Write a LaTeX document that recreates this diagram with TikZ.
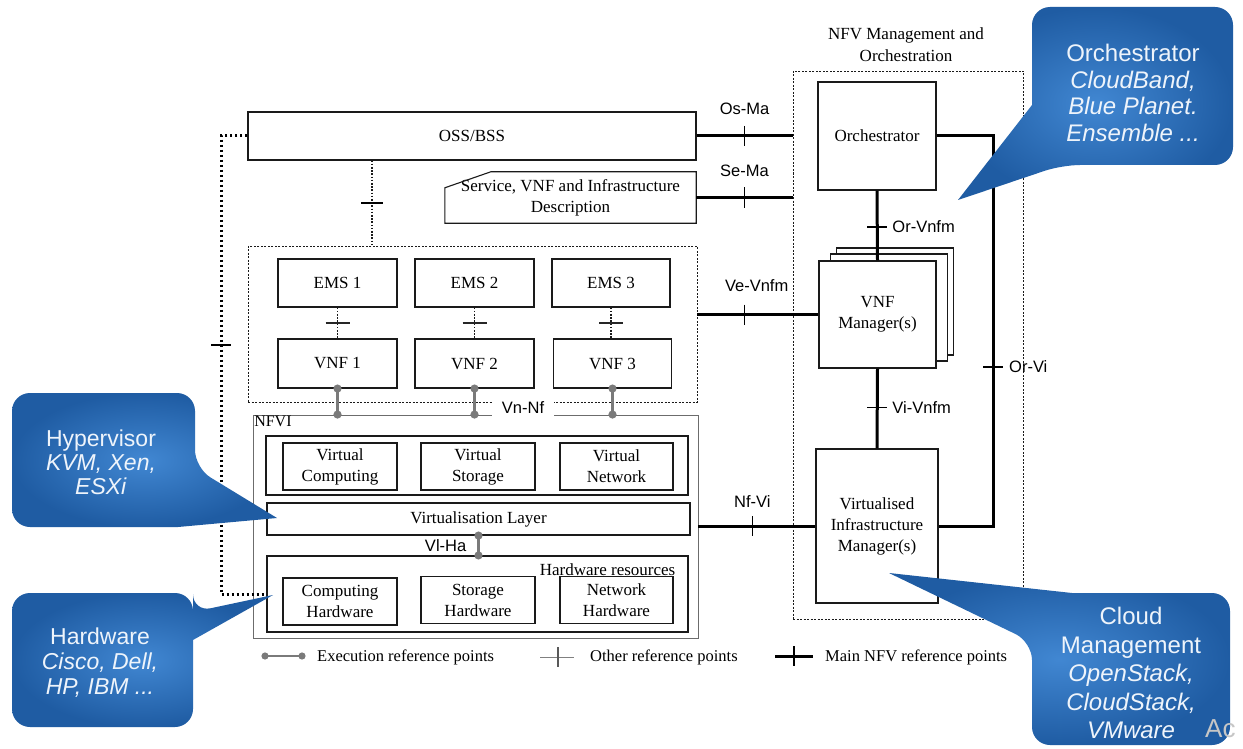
\documentclass[tikz,border=0pt]{standalone}
\usepackage{fontspec}
\setmainfont{Liberation Serif}
\newfontfamily\lsans{Liberation Sans}
\usetikzlibrary{arrows.meta}
\definecolor{cbinner}{HTML}{4187D2}
\definecolor{cbouter}{HTML}{1F5CA3}
\definecolor{cbtext}{HTML}{EEF4FB}
\definecolor{lnc}{HTML}{1A1A1A}
\definecolor{exgray}{HTML}{7A7A7A}
\begin{document}
\begin{tikzpicture}[x=1pt,y=-1pt,
  box/.style={draw=lnc, line width=1.1pt, fill=white, align=center, inner sep=0pt, font=\fontsize{17}{21}\selectfont},
  edgeln/.style={draw=lnc, line width=1.1pt},
  dbox/.style={draw=lnc, line width=0.9pt, dash pattern=on 2pt off 1.5pt, inner sep=0pt},
  lbl/.style={font=\lsans\fontsize{16.5}{19}\selectfont, inner sep=1pt},
  main/.style={draw=black, line width=3pt},
  tk/.style={draw=black, line width=1.3pt},
  dotl/.style={draw=lnc, line width=1.8pt, dash pattern=on 1.6pt off 1.6pt},
  thickdot/.style={draw=black, line width=3pt, dash pattern=on 2.5pt off 2.5pt},
  exec/.style={draw=exgray, line width=2.5pt, {Circle[length=8pt]}-{Circle[length=8pt]}, shorten <=-4pt, shorten >=-4pt},
  cotext/.style={text=cbtext, align=center, inner sep=0pt},
  legend/.style={font=\fontsize{16.5}{19}\selectfont, anchor=west, inner sep=0pt},
]
\useasboundingbox (0,0) rectangle (1243,749);
\fill[white] (0,0) rectangle (1243,749);

% ---------- MANO ----------
\node[dbox, minimum width=230pt, minimum height=548pt] (mano) at (908,345) {};
\node[align=center, font=\fontsize{17}{22}\selectfont, inner sep=0pt] (manotitle) at (906,45) {NFV Management and\\Orchestration};
\node[box, minimum width=118pt, minimum height=108pt] (orch) at (877,136) {Orchestrator};
\node[box, minimum width=117pt, minimum height=107pt] (vnfmC) at (895,301.5) {};
\node[box, minimum width=117pt, minimum height=107pt] (vnfmB) at (889,307.5) {};
\node[box, minimum width=117pt, minimum height=107pt] (vnfm) at (877.5,314.5) {VNF\\Manager(s)};
\node[box, minimum width=122pt, minimum height=154pt] (vim) at (877,526) {Virtualised\\Infrastructure\\Manager(s)};

% ---------- OSS / description ----------
\node[box, minimum width=448pt, minimum height=48pt] (oss) at (472,136) {OSS/BSS};
\node[align=center, font=\fontsize{17}{21}\selectfont, minimum width=251pt, minimum height=51pt, inner sep=0pt] (desc) at (570.5,197.5) {Service, VNF and Infrastructure\\Description};
\draw[edgeln] ([yshift=-16pt]desc.north west) -- ([xshift=46pt]desc.north west) -- (desc.north east) -- (desc.south east) -- (desc.south west) -- cycle;

% ---------- EMS / VNF ----------
\node[dbox, minimum width=449pt, minimum height=156pt] (emsgrp) at (472.5,324) {};
\node[box, minimum width=119pt, minimum height=48pt] (ems1) at (337.5,283) {EMS 1};
\node[box, minimum width=119pt, minimum height=48pt] (ems2) at (474.5,283) {EMS 2};
\node[box, minimum width=118pt, minimum height=48pt] (ems3) at (611,283) {EMS 3};
\node[box, minimum width=119pt, minimum height=49pt] (vnf1) at (337.5,363.5) {VNF 1};
\node[box, minimum width=119pt, minimum height=49pt] (vnf2) at (474.5,363.5) {VNF 2};
\node[box, minimum width=118pt, minimum height=49pt] (vnf3) at (612.5,363.5) {VNF 3};

% ---------- NFVI ----------
\node[draw=gray!85!black, line width=0.9pt, minimum width=445pt, minimum height=223pt, inner sep=0pt] (nfvi) at (475.5,526.5) {};
\node[anchor=north west, font=\fontsize{16}{18}\selectfont, inner sep=1.5pt] (nfvilbl) at (nfvi.north west) {NFVI};
\node[box, minimum width=422pt, minimum height=59pt] (vgroup) at (477,465.5) {};
\node[box, minimum width=114pt, minimum height=47pt] (vcomp) at (340,466.5) {Virtual\\Computing};
\node[box, minimum width=114pt, minimum height=47pt] (vstor) at (478,466.5) {Virtual\\Storage};
\node[box, minimum width=113pt, minimum height=47pt] (vnet) at (616.5,466.5) {Virtual\\Network};
\node[box, minimum width=423pt, minimum height=32pt] (vlayer) at (478.5,519) {Virtualisation Layer};
\node[box, minimum width=421pt, minimum height=76pt] (hwres) at (477.5,594) {};
\node[anchor=east, font=\fontsize{17}{21}\selectfont, inner sep=0pt] (hwlbl) at ([xshift=-13pt,yshift=-14pt]hwres.north east) {Hardware resources};
\node[box, minimum width=114pt, minimum height=47pt] (chw) at (340,601.5) {Computing\\Hardware};
\node[box, minimum width=114pt, minimum height=47pt] (shw) at (478,600) {Storage\\Hardware};
\node[box, minimum width=113pt, minimum height=47pt] (nhw) at (616.5,600) {Network\\Hardware};

% Vn-Nf label (covers the box edges)
\node[lbl, fill=white, inner xsep=10pt, inner ysep=3pt] (vnnf) at (523,408) {Vn-Nf};

% ---------- execution reference points ----------
\draw[exec] (vnf1.south) -- (vnf1.south |- nfvi.north);
\draw[exec] (vnf2.south) -- (vnf2.south |- nfvi.north);
\draw[exec] (vnf3.south) -- (vnf3.south |- nfvi.north);
\draw[exec] (vlayer.south) -- node[lbl, left=10pt] (vlha) {Vl-Ha} (vlayer.south |- hwres.north);

% ---------- EMS - VNF ----------
\draw[dotl] (ems1.south) -- coordinate[pos=0.5] (tev1) (vnf1.north);
\draw[dotl] (ems2.south) -- coordinate[pos=0.5] (tev2) (vnf2.north);
\draw[dotl] (ems3.south) -- coordinate[pos=0.5] (tev3) (ems3.south |- vnf3.north);
\foreach \t in {tev1,tev2,tev3}{
  \draw[draw=black!85, line width=2.6pt] ([xshift=-12pt]\t) -- ([xshift=12pt]\t);
}

% ---------- OSS - EMS ----------
\coordinate (oe1) at ([xshift=-100pt]oss.south);
\draw[dotl] (oe1) -- coordinate[pos=0.5] (toe) (oe1 |- emsgrp.north);
\draw[tk] ([xshift=-11pt]toe) -- ([xshift=11pt]toe);

% ---------- OSS - hardware (left) ----------
\coordinate (lx) at (221,345);
\draw[thickdot] (oss.west) -| (lx) |- (hwres.west);
\draw[tk] ([xshift=-10pt]lx) -- ([xshift=10pt]lx);

% ---------- main reference points ----------
\draw[main] (oss.east) -- coordinate[pos=0.5] (tosma) (oss.east -| mano.west);
\draw[tk] ([yshift=10pt]tosma) -- ([yshift=-10pt]tosma);
\node[lbl] (osma) at ([yshift=27pt]tosma) {Os-Ma};

\draw[main] (desc.east) -- coordinate[pos=0.5] (tsema) (desc.east -| mano.west);
\draw[tk] ([yshift=10pt]tsema) -- ([yshift=-10pt]tsema);
\node[lbl] (sema) at ([yshift=27pt]tsema) {Se-Ma};

\draw[main] (vnfm.west -| emsgrp.east) -- coordinate[pos=0.39] (tvevnfm) (vnfm.west);
\draw[tk] ([yshift=10pt]tvevnfm) -- ([yshift=-10pt]tvevnfm);
\node[lbl] (vevnfm) at ([xshift=12pt,yshift=29pt]tvevnfm) {Ve-Vnfm};

\draw[main] (vim.west -| nfvi.east) -- coordinate[pos=0.46] (tnfvi) (vim.west);
\draw[tk] ([yshift=10pt]tnfvi) -- ([yshift=-10pt]tnfvi);
\node[lbl] (nfvilabel) at ([yshift=24pt]tnfvi) {Nf-Vi};

\draw[main] (orch.south) -- coordinate[pos=0.52] (torvnfm) (vnfm.north);
\draw[tk] ([xshift=-10pt]torvnfm) -- ([xshift=10pt]torvnfm);
\node[lbl, anchor=west] (orvnfm) at ([xshift=14pt]torvnfm) {Or-Vnfm};

\draw[main] (vnfm.south) -- coordinate[pos=0.49] (tvivnfm) (vim.north);
\draw[tk] ([xshift=-10pt]tvivnfm) -- ([xshift=10pt]tvivnfm);
\node[lbl, anchor=west] (vivnfm) at ([xshift=14pt]tvivnfm) {Vi-Vnfm};

\coordinate (orvi) at (993,367);
\draw[main] (orch.east) -| (orvi) |- (vim.east);
\draw[tk] ([xshift=-10pt]orvi) -- ([xshift=10pt]orvi);
\node[lbl, anchor=west] (orvilbl) at ([xshift=15pt]orvi) {Or-Vi};

% ---------- legend ----------
\coordinate (lg1a) at (265,656);
\coordinate (lg1b) at (302,656);
\draw[exec, line width=2pt, {Circle[length=7pt]}-{Circle[length=7pt]}, shorten <=-3.5pt, shorten >=-3.5pt] (lg1a) -- (lg1b);
\node[legend] (lg1t) at (317,657) {Execution reference points};
\coordinate (lg2a) at (540,657);
\coordinate (lg2b) at (574,657);
\draw[draw=gray, line width=1pt] (lg2a) -- coordinate[pos=0.53] (lg2m) (lg2b);
\draw[draw=gray!70!black, line width=1.2pt] ([yshift=10pt]lg2m) -- ([yshift=-10pt]lg2m);
\node[legend] (lg2t) at (590,657) {Other reference points};
\coordinate (lg3a) at (775,656);
\coordinate (lg3b) at (813,656);
\draw[main] (lg3a) -- coordinate[pos=0.5] (lg3m) (lg3b);
\draw[tk] ([yshift=10pt]lg3m) -- ([yshift=-10pt]lg3m);
\node[legend] (lg3t) at (825,657) {Main NFV reference points};

% ---------- callouts ----------
\shade[inner color=cbinner, outer color=cbouter, rounded corners=18pt]
  (1032,105) -- (1032,7) -- (1233,7) -- (1233,165) -- (1062,165) [sharp corners] -- (958,200) -- cycle;
\node[cotext, font=\lsans\fontsize{24}{26.5}\selectfont] (orchco) at (1133,93)
  {Orchestrator\\\textit{CloudBand,}\\\textit{Blue Planet.}\\\textit{Ensemble ...}};

\shade[inner color=cbinner, outer color=cbouter, rounded corners=18pt]
  (178,527) -- (12,527) -- (12,393) -- (195,393) -- (195,468) [sharp corners] -- (277,518) -- cycle;
\node[cotext, font=\lsans\fontsize{23}{24}\selectfont] (hypco) at (101,462)
  {Hypervisor\\\textit{KVM, Xen,}\\\textit{ESXi}};

\shade[inner color=cbinner, outer color=cbouter, rounded corners=18pt]
  (193,640) -- (193,727) -- (12,727) -- (12,593) -- (193,593) -- (193,612) [sharp corners] -- (273,595) -- cycle;
\node[cotext, font=\lsans\fontsize{23}{25}\selectfont] (hwco) at (100,663)
  {Hardware\\\textit{Cisco, Dell,}\\\textit{HP, IBM ...}};

\shade[inner color=cbinner, outer color=cbouter, rounded corners=18pt]
  (1072,593) -- (1230,593) -- (1230,745) -- (1032,745) -- (1032,642) [sharp corners] -- (889,573) -- cycle;
\node[cotext, font=\lsans\fontsize{24}{28.5}\selectfont] (cloudco) at (1131,673)
  {Cloud\\Management\\\textit{OpenStack,}\\\textit{CloudStack,}\\\textit{VMware}};

\node[anchor=west, text=gray!45, font=\lsans\fontsize{26}{28}\selectfont, inner sep=0pt] (wm) at (1205,729) {Ac};
\end{tikzpicture}
\end{document}
